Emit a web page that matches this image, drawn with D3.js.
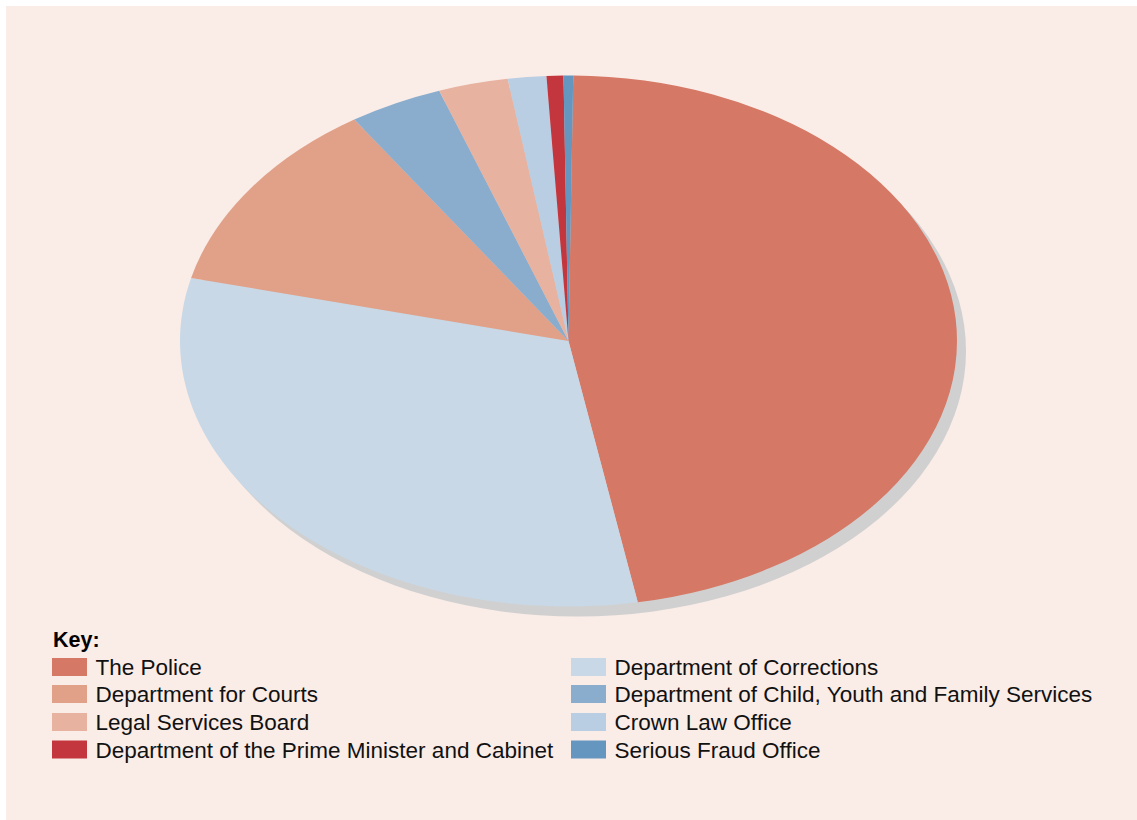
<!DOCTYPE html>
<html>
<head>
<meta charset="utf-8">
<script src="https://cdn.jsdelivr.net/npm/d3@7/dist/d3.min.js"></script>
<style>
  html, body { margin: 0; padding: 0; background: #ffffff; }
  svg { display: block; font-family: "Liberation Sans", Arial, sans-serif; }
</style>
</head>
<body>
<svg id="chart" width="1137" height="820"></svg>
<script>
// Share of spending by department (percent)
const categories = [
  "The Police",
  "Department of Corrections",
  "Department for Courts",
  "Department of Child, Youth and Family Services",
  "Legal Services Board",
  "Crown Law Office",
  "Department of the Prime Minister and Cabinet",
  "Serious Fraud Office"
];
const shares = [47.0, 31.7, 11.9, 3.9, 2.9, 1.6, 0.7, 0.4];
const sliceColors = ["#d57865", "#c8d8e6", "#e1a088", "#8badcd", "#e8b2a0", "#b9cde3", "#c3363e", "#6496c0"];
const legendTitle = "Key:";

const data = categories.map((name, i) => ({ name, value: shares[i], color: sliceColors[i] }));

const svg = d3.select("#chart");
const W = 1137, H = 820;

// background panel
svg.append("rect").attr("x", 6).attr("y", 6).attr("width", W - 6).attr("height", H - 6)
  .attr("fill", "#faece7");

// elliptical pie geometry
const cx = 568.5, cy = 341, rx = 388.5, ry = 265.5;
const startDeg = 0.7;

const pie = d3.pie().value(d => d.value).sort(null)
  .startAngle(startDeg * Math.PI / 180)
  .endAngle((360 + startDeg) * Math.PI / 180);
const arc = d3.arc().innerRadius(0).outerRadius(ry);

// drop shadow
svg.append("ellipse")
  .attr("cx", cx + 9).attr("cy", cy + 10)
  .attr("rx", rx).attr("ry", ry)
  .attr("fill", "#d0d0d0");

const g = svg.append("g")
  .attr("transform", `translate(${cx},${cy}) scale(${rx / ry},1)`);

g.selectAll("path.slice")
  .data(pie(data))
  .join("path")
  .attr("class", "slice")
  .attr("d", arc)
  .attr("fill", d => d.data.color);

// legend
const legend = svg.append("g");
legend.append("text")
  .attr("x", 53).attr("y", 647)
  .attr("font-size", 21.5).attr("font-weight", "bold").attr("fill", "#000")
  .text(legendTitle);

const colX = [52, 571];
const rowY = [658, 685, 713, 740.5];
const items = legend.selectAll("g.item")
  .data(data)
  .join("g")
  .attr("class", "item")
  .attr("transform", (d, i) => `translate(${colX[i % 2]},${rowY[Math.floor(i / 2)]})`);

items.append("rect")
  .attr("width", 35).attr("height", 18)
  .attr("fill", d => d.color);

items.append("text")
  .attr("x", 43.5).attr("y", 17)
  .attr("font-size", 22.5).attr("fill", "#111")
  .text(d => d.name);
</script>
</body>
</html>
